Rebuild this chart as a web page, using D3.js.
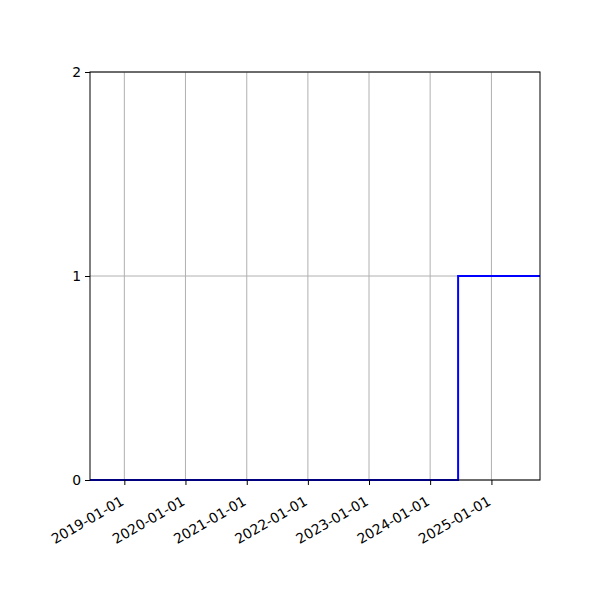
<!DOCTYPE html>
<html>
<head>
<meta charset="utf-8">
<script src="https://cdn.jsdelivr.net/npm/d3@7"></script>
<style>
  body { margin: 0; background: #fff; }
  svg { display: block; }
</style>
</head>
<body>
<svg id="chart" width="600" height="600"></svg>
<script>
// step series: value holds from each date until the next one
var dates = ["2018-06-10", "2024-06-16", "2025-10-18"];
var values = [0, 1, 1];
var xTicks = ["2019-01-01", "2020-01-01", "2021-01-01", "2022-01-01", "2023-01-01", "2024-01-01", "2025-01-01"];
var yTicks = [0, 1, 2];

var parse = d3.utcParse("%Y-%m-%d");
var data = dates.map((d, i) => ({ date: parse(d), value: values[i] }));

var svg = d3.select("svg#chart"),
    margin = { left: 90, top: 72, right: 60, bottom: 120 },
    width = 600 - margin.left - margin.right,
    height = 600 - margin.top - margin.bottom,
    g = svg.append("g").attr("transform", "translate(" + margin.left + ", " + margin.top + ")"),
    x_scale = d3.scaleUtc()
        .range([0, width])
        .domain([data[0].date, data[data.length - 1].date]),
    y_scale = d3.scaleLinear()
        .range([height, 0])
        .domain([0, 2]);

var font = "DejaVu Sans";

// grid
g.append("g")
    .selectAll("line")
    .data(xTicks.map(parse))
    .enter()
    .append("line")
    .attr("x1", d => x_scale(d))
    .attr("x2", d => x_scale(d))
    .attr("y1", 0)
    .attr("y2", height)
    .style("stroke", "#b0b0b0")
    .style("stroke-width", 1);

g.append("g")
    .selectAll("line")
    .data(yTicks)
    .enter()
    .append("line")
    .attr("x1", 0)
    .attr("x2", width)
    .attr("y1", d => y_scale(d))
    .attr("y2", d => y_scale(d))
    .style("stroke", "#b0b0b0")
    .style("stroke-width", 1);

// step line
var line = d3.line()
    .x(d => x_scale(d.date))
    .y(d => y_scale(d.value))
    .curve(d3.curveStepAfter);

g.append("path")
    .datum(data)
    .attr("d", line)
    .style("fill", "none")
    .style("stroke", "blue")
    .style("stroke-width", 2);

// axes
var x_axis = d3.axisBottom(x_scale)
    .tickValues(xTicks.map(parse))
    .tickFormat(d3.utcFormat("%Y-%m-%d"))
    .tickSizeInner(5)
    .tickSizeOuter(0);

var y_axis = d3.axisLeft(y_scale)
    .tickValues(yTicks)
    .tickFormat(d3.format("d"))
    .tickSizeInner(5)
    .tickSizeOuter(0);

var xg = g.append("g")
    .attr("transform", "translate(0, " + height + ")")
    .call(x_axis);
xg.select(".domain").remove();
xg.selectAll("line").style("stroke", "#000").style("stroke-width", 1);
xg.selectAll("text")
    .attr("font-family", font)
    .style("font-size", "13.9px")
    .style("fill", "#000")
    .style("text-anchor", "end")
    .attr("y", 0)
    .attr("dy", 0)
    .attr("transform", "translate(0, 24) rotate(-30)");

var yg = g.append("g").call(y_axis);
yg.select(".domain").remove();
yg.selectAll("line").style("stroke", "#000").style("stroke-width", 1);
yg.selectAll("text")
    .attr("font-family", font)
    .style("font-size", "13.9px")
    .style("fill", "#000")
    .attr("x", -9);

// frame
g.append("rect")
    .attr("x", 0)
    .attr("y", 0)
    .attr("width", width)
    .attr("height", height)
    .style("fill", "none")
    .style("stroke", "#000")
    .style("stroke-width", 1);
</script>
</body>
</html>
